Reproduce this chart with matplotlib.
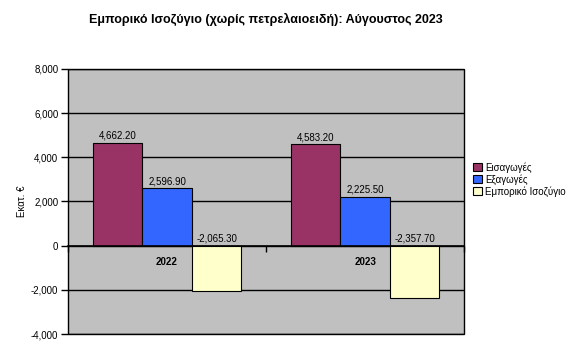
import numpy as np
import matplotlib.pyplot as plt

plt.rcParams["font.family"] = ["Liberation Sans", "DejaVu Sans"]

# --- Δεδομένα ---
etos = ["2022", "2023"]
seires = ["Εισαγωγές", "Εξαγωγές", "Εμπορικό Ισοζύγιο"]
eisagoges = [4662.2, 4583.2]
exagoges = [2596.9, 2225.5]
isozygio = [-2065.3, -2357.7]
xromata = ["#993366", "#3366FF", "#FFFFCC"]

fig = plt.figure(figsize=(5.81, 3.48), dpi=100)
ax = fig.add_axes([0.117, 0.040, 0.682, 0.762])
ax.set_facecolor("#C0C0C0")
ax.patch.set_edgecolor("black")
ax.patch.set_linewidth(1.0)

x = np.arange(len(etos))
w = 0.25
for i, (vals, nome, cor) in enumerate(zip([eisagoges, exagoges, isozygio], seires, xromata)):
    pos = x + (i - 1) * w
    ax.bar(pos, vals, w, color=cor, edgecolor="black", linewidth=0.8, label=nome, zorder=3)
    for p, v in zip(pos, vals):
        ax.annotate(f"{v:,.2f}", (p, max(v, 0)), textcoords="offset points", xytext=(0, 1.5),
                    ha="center", va="bottom", fontsize=7, zorder=4)

ax.set_xlim(-0.5, 1.5)
ax.set_ylim(-4000, 8000)
ax.set_yticks(np.arange(-4000, 8001, 2000))
ax.set_yticklabels([f"{int(t):,}" for t in np.arange(-4000, 8001, 2000)], fontsize=7)
ax.yaxis.grid(True, color="black", linewidth=1.0, zorder=1)
ax.set_axisbelow(True)
ax.tick_params(axis="y", direction="out", length=5, width=1, pad=2)

# άξονας κατηγοριών στο μηδέν
for s in ["top", "right", "left"]:
    ax.spines[s].set_visible(False)
ax.spines["bottom"].set_position(("data", 0))
ax.spines["bottom"].set_linewidth(1.2)
ax.spines["bottom"].set_zorder(5)
ax.set_xticks(x)
ax.set_xticklabels(etos, fontsize=7, fontweight="bold")
ax.set_xticks([-0.5, 0.5, 1.5], minor=True)
ax.tick_params(axis="x", which="major", length=0, pad=8)
ax.tick_params(axis="x", which="minor", direction="out", length=4, width=1)

ax.set_ylabel("Εκατ. €", fontsize=7, labelpad=2.5)

fig.text(0.458, 0.943, "Εμπορικό Ισοζύγιο (χωρίς πετρελαιοειδή): Αύγουστος 2023",
         ha="center", va="center", fontsize=9, fontweight="bold")

fig.legend(loc="upper left", bbox_to_anchor=(0.808, 0.545), frameon=False, fontsize=7,
           handlelength=0.9, handleheight=0.9, handletextpad=0.3, labelspacing=0.15,
           borderaxespad=0)

fig.savefig("out.png", dpi=100)
